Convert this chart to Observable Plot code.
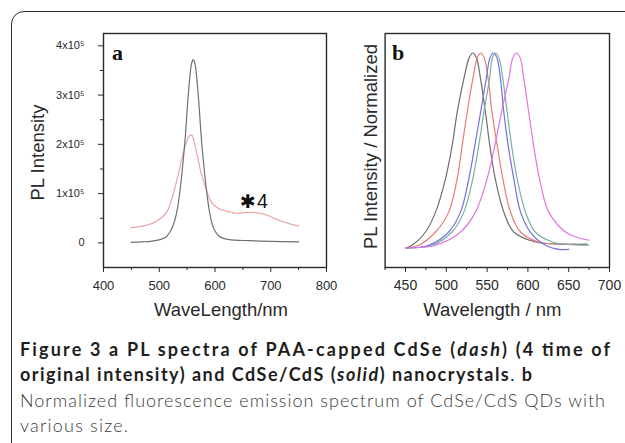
<!DOCTYPE html>
<html>
<head>
<meta charset="utf-8">
<script src="https://cdn.jsdelivr.net/npm/d3@7"></script>
<script src="https://cdn.jsdelivr.net/npm/@observablehq/plot@0.6"></script>
<style>
  html, body { margin: 0; padding: 0; background: #fff; }
  #page { position: relative; width: 625px; height: 443px; overflow: hidden; background: #fff; }
  #border { position: absolute; left: 11px; top: 11px; width: 700px; height: 600px;
            border: 1.6px solid #2b2b2b; border-radius: 13px 0 0 0; }
  #pa { position: absolute; left: 0; top: 0; }
  #pb { position: absolute; left: 336px; top: 0; }
  #cap { position: absolute; left: 0; top: 0; }
</style>
</head>
<body>
<div id="page">
  <div id="border"></div>
  <div id="pa"></div>
  <div id="pb"></div>
  <svg id="cap" width="625" height="443" xmlns="http://www.w3.org/2000/svg"
       style="font-family: Lato, 'Noto Sans', sans-serif; font-size: 18px;">
    <text x="20" y="356" textLength="590" lengthAdjust="spacing" font-weight="700" fill="#1e1e1e">Figure 3 a PL spectra of PAA-capped CdSe (<tspan font-style="italic">dash</tspan>) (4 time of</text>
    <text x="20" y="381.3" textLength="512" lengthAdjust="spacing" font-weight="700" fill="#1e1e1e">original intensity) and CdSe/CdS (<tspan font-style="italic">solid</tspan>) nanocrystals<tspan font-weight="400">.</tspan> b</text>
    <text x="20" y="406.6" textLength="585" lengthAdjust="spacing" font-weight="300" fill="#3a3a3a">Normalized fluorescence emission spectrum of CdSe/CdS QDs with</text>
    <text x="20" y="431.8" textLength="108" lengthAdjust="spacing" font-weight="300" fill="#3a3a3a">various size.</text>
  </svg>
</div>
<script>
// ---------------- Panel a data (intensity in units of 10^5) ----------------
const solidWavelength = [450, 470, 485, 495, 505, 512, 518, 523, 528, 532, 536, 541, 546, 551, 555, 558, 561, 564, 567, 571, 576, 581, 586, 590, 594, 599, 606, 615, 630, 660, 700, 750];
const solidIntensity  = [0.01, 0.02, 0.03, 0.05, 0.08, 0.12, 0.20, 0.30, 0.46, 0.66, 0.95, 1.45, 2.05, 2.85, 3.38, 3.64, 3.72, 3.64, 3.38, 2.85, 2.05, 1.45, 0.95, 0.64, 0.42, 0.26, 0.15, 0.09, 0.06, 0.045, 0.03, 0.02];

const dashWavelength = [450, 470, 490, 505, 515, 521, 527, 536, 544, 550, 554, 557.6, 561, 565, 570, 574, 583, 592, 600, 610, 622, 640, 658, 676, 694, 712, 730, 750];
const dashIntensity  = [0.31, 0.34, 0.41, 0.52, 0.66, 0.84, 1.07, 1.48, 1.88, 2.08, 2.17, 2.19, 2.12, 1.94, 1.68, 1.47, 1.13, 0.86, 0.75, 0.68, 0.64, 0.60, 0.62, 0.61, 0.56, 0.47, 0.40, 0.34];

const xTicksA = [400, 500, 600, 700, 800];
const xMinorA = [450, 550, 650, 750];
const yTicksA = [0, 1, 2, 3, 4];
const yMinorA = [0.5, 1.5, 2.5, 3.5];

// ---------------- Panel b data (normalized) ----------------
const grayWavelength = [450, 458, 474.5, 486.8, 499, 507.2, 513.3, 521.5, 528, 532.5, 537, 542, 548, 553.3, 560, 570.5, 582.7, 609, 640, 673];
const grayIntensity  = [0, 0.014, 0.082, 0.184, 0.355, 0.526, 0.696, 0.867, 0.975, 1.0, 0.975, 0.867, 0.696, 0.526, 0.355, 0.184, 0.082, 0.031, 0.02, 0.02];

const redWavelength = [450, 466, 486.8, 503, 513.3, 519.5, 525.6, 532.5, 538, 542, 546.5, 551.3, 556, 562.4, 569.3, 578.7, 591, 613, 640, 660];
const redIntensity  = [0, 0.014, 0.082, 0.184, 0.355, 0.526, 0.696, 0.867, 0.975, 1.0, 0.975, 0.867, 0.696, 0.526, 0.355, 0.184, 0.082, 0.031, 0.02, 0.02];

const blueWavelength = [450, 478.6, 503, 517.4, 527.6, 535, 542, 548.9, 553.5, 557.5, 562, 566.4, 570.5, 575.8, 582.7, 591, 603, 621.6, 638, 650];
const blueIntensity  = [0, 0.014, 0.082, 0.184, 0.355, 0.526, 0.696, 0.867, 0.975, 1.0, 0.975, 0.867, 0.696, 0.526, 0.355, 0.184, 0.082, 0.014, -0.007, -0.007];

const greenWavelength = [450, 482.7, 507, 521.5, 532.5, 539.8, 546, 553, 556.5, 560.3, 564.5, 569.3, 574.6, 580, 586.8, 597, 609, 629.8, 650, 675];
const greenIntensity  = [0, 0.014, 0.082, 0.184, 0.355, 0.526, 0.696, 0.867, 0.975, 1.0, 0.975, 0.867, 0.696, 0.526, 0.355, 0.184, 0.082, 0.031, 0.018, 0.014];

const magentaWavelength = [450, 486.8, 517.4, 535.8, 550, 559.5, 567.6, 576.6, 581.5, 586, 590.5, 595, 601, 607, 614.2, 625.6, 646, 660, 675];
const magentaIntensity  = [0, 0.014, 0.082, 0.184, 0.355, 0.526, 0.696, 0.867, 0.975, 1.0, 0.975, 0.867, 0.696, 0.526, 0.355, 0.184, 0.082, 0.055, 0.04];

const xTicksB = [450, 500, 550, 600, 650, 700];
const xMinorB = [425, 475, 525, 575, 625, 675];

// annotation text of panel a
const annotationA = [{ wavelength: 659, intensity: 0.84, star: "✱", factor: "4" }];

// ---------------- helpers ----------------
const zip = (xs, ys) => xs.map((x, i) => ({ x, y: ys[i] }));
const axisFont = "'Liberation Sans', Arial, Helvetica, sans-serif";
const ink = "#2a2a2a";

// ---------------- Panel a ----------------
const chartA = Plot.plot({
  width: 336, height: 320,
  marginLeft: 103, marginRight: 10, marginTop: 33, marginBottom: 53,
  style: { background: "transparent", fontFamily: axisFont, color: ink, overflow: "visible" },
  x: { domain: [400, 800], axis: null },
  y: { domain: [-0.5, 4.25], axis: null },
  marks: [
    Plot.line(zip(dashWavelength, dashIntensity), { x: "x", y: "y", curve: "catmull-rom", stroke: "#e99a9a", strokeWidth: 1.3, strokeDasharray: "1,1.4" }),
    Plot.line(zip(solidWavelength, solidIntensity), { x: "x", y: "y", curve: "catmull-rom", stroke: "#707070", strokeWidth: 1.2 }),
    Plot.frame({ stroke: ink, strokeWidth: 1.4 }),
    Plot.axisX({ ticks: xTicksA, tickSize: 5, tickPadding: 8, fontSize: 13, tickFormat: d => String(d), label: null }),
    Plot.axisX({ ticks: xMinorA, tickSize: 3, tickFormat: () => "", label: null }),
    Plot.axisY({ ticks: yTicksA, tickSize: 5, tickPadding: 14, fontSize: 11, tickFormat: d => d === 0 ? "0" : `${d}x10⁵`, label: null }),
    Plot.axisY({ ticks: yMinorA, tickSize: 3, tickFormat: () => "", label: null }),
    Plot.text(["PL Intensity"], { text: d => d, frameAnchor: "left", dx: -65, dy: 2, rotate: -90, fontSize: 18.5, lineAnchor: "middle", textAnchor: "middle", fill: ink }),
    Plot.text(["WaveLength/nm"], { text: d => d, frameAnchor: "bottom", dx: 6, dy: 43, fontSize: 18.5, lineAnchor: "middle", textAnchor: "middle", fill: ink }),
    Plot.text(["a"], { text: d => d, frameAnchor: "top-left", dx: 8.5, dy: 26.5, textAnchor: "start", lineAnchor: "bottom", fontSize: 22, fontWeight: "bold", fontFamily: "'Liberation Serif', 'Times New Roman', serif", fill: "#111" }),
    Plot.text(annotationA, { x: "wavelength", y: "intensity", text: "star", fontSize: 19, fontFamily: "'DejaVu Sans', sans-serif", lineAnchor: "middle", textAnchor: "middle", fill: "#111" }),
    Plot.text(annotationA, { x: "wavelength", y: "intensity", text: "factor", dx: 14.5, fontSize: 19.5, lineAnchor: "middle", textAnchor: "middle", fill: "#111" })
  ]
});
document.getElementById("pa").appendChild(chartA);

// ---------------- Panel b ----------------
const seriesB = [
  { xs: grayWavelength, ys: grayIntensity, color: "#6e6e6e" },
  { xs: redWavelength, ys: redIntensity, color: "#e97a7a" },
  { xs: greenWavelength, ys: greenIntensity, color: "#78b3a0" },
  { xs: blueWavelength, ys: blueIntensity, color: "#766ee2" },
  { xs: magentaWavelength, ys: magentaIntensity, color: "#e374e0" }
];

const chartB = Plot.plot({
  width: 289, height: 320,
  marginLeft: 48.6, marginRight: 16, marginTop: 33, marginBottom: 53,
  style: { background: "transparent", fontFamily: axisFont, color: ink, overflow: "visible" },
  x: { domain: [425, 700], axis: null },
  y: { domain: [-0.1, 1.1], axis: null },
  marks: [
    ...seriesB.map(s => Plot.line(zip(s.xs, s.ys), { x: "x", y: "y", curve: "catmull-rom", stroke: s.color, strokeWidth: 1.2 })),
    Plot.frame({ stroke: ink, strokeWidth: 1.4 }),
    Plot.axisX({ ticks: xTicksB, tickSize: 5, tickPadding: 8, fontSize: 14, tickFormat: d => String(d), label: null }),
    Plot.axisX({ ticks: xMinorB, tickSize: 3, tickFormat: () => "", label: null }),
    Plot.text(["PL Intensity / Normalized"], { text: d => d, frameAnchor: "left", dx: -13.6, dy: -4, rotate: -90, fontSize: 18.5, lineAnchor: "middle", textAnchor: "middle", fill: ink }),
    Plot.text(["Wavelength / nm"], { text: d => d, frameAnchor: "bottom", dx: -5, dy: 43, fontSize: 18.5, lineAnchor: "middle", textAnchor: "middle", fill: ink }),
    Plot.text(["b"], { text: d => d, frameAnchor: "top-left", dx: 7, dy: 26.5, textAnchor: "start", lineAnchor: "bottom", fontSize: 22, fontWeight: "bold", fontFamily: "'Liberation Serif', 'Times New Roman', serif", fill: "#111" })
  ]
});
document.getElementById("pb").appendChild(chartB);
</script>
</body>
</html>
